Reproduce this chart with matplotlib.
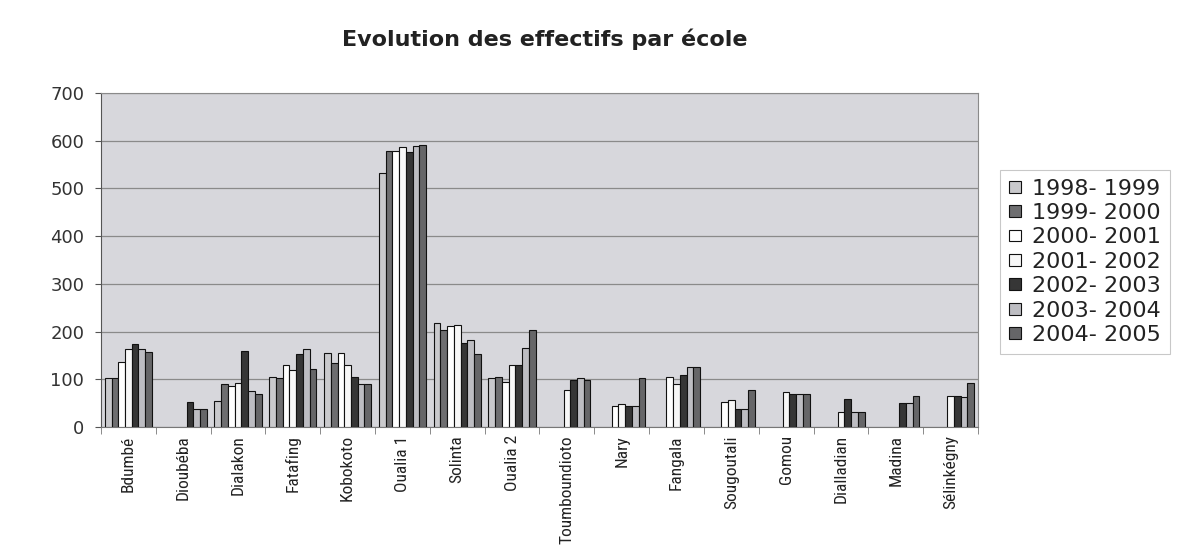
"""Evolution des effectifs par école, 1998-2005."""

import matplotlib

matplotlib.use("Agg")

import matplotlib.pyplot as plt
import numpy as np
from matplotlib import font_manager


SCHOOLS = [
    "Bdumbé", "Dioubéba", "Dialakon", "Fatafing", "Kobokoto", "Oualia 1",
    "Solinta", "Oualia 2", "Toumboundioto", "Nary", "Fangala", "Sougoutali",
    "Gomou", "Dialladian", "Madina", "Sélinkégny",
]
YEARS = [
    "1998- 1999", "1999- 2000", "2000- 2001", "2001- 2002",
    "2002- 2003", "2003- 2004", "2004- 2005",
]

# one list per school, values in YEARS order (0 = no bar)
bdumbe = [103, 103, 136, 164, 173, 164, 157]
dioubeba = [0, 0, 0, 0, 52, 37, 37]
dialakon = [55, 90, 85, 92, 159, 75, 70]
fatafing = [105, 103, 129, 119, 152, 164, 122]
kobokoto = [156, 134, 156, 131, 105, 90, 90]
oualia1 = [533, 579, 579, 586, 577, 589, 591]
solinta = [217, 204, 211, 213, 176, 182, 152]
oualia2 = [103, 105, 94, 129, 131, 166, 204]
toumboundioto = [0, 0, 0, 78, 99, 103, 98]
nary = [0, 0, 45, 48, 45, 45, 103]
fangala = [0, 0, 105, 90, 110, 126, 126]
sougoutali = [0, 0, 52, 57, 38, 38, 78]
gomou = [0, 0, 0, 73, 69, 69, 69]
dialladian = [0, 0, 0, 31, 59, 31, 31]
madina = [0, 0, 0, 0, 50, 50, 66]
selinkegny = [0, 0, 0, 66, 66, 63, 93]

COLORS = ["#c9c9cc", "#6e6e70", "#ffffff", "#f7f7f7", "#363636", "#bdbdc2", "#666668"]


def pick_font(names):
    installed = {f.name for f in font_manager.fontManager.ttflist}
    for n in names:
        if n in installed:
            return n
    return "DejaVu Sans"


def main() -> None:
    plt.rcParams["font.family"] = ["DejaVu Sans"]
    narrow = pick_font(["Liberation Sans Narrow", "Roboto Condensed", "Liberation Sans"])

    data = np.array([
        bdumbe, dioubeba, dialakon, fatafing, kobokoto, oualia1, solinta, oualia2,
        toumboundioto, nary, fangala, sougoutali, gomou, dialladian, madina, selinkegny,
    ], dtype=float)

    fig = plt.figure(figsize=(11.78, 5.49), dpi=100)
    ax = fig.add_axes([0.0857, 0.2222, 0.7445, 0.6084])
    ax.set_facecolor("#d7d7dc")

    n_cat, n_ser = data.shape
    x = np.arange(n_cat)
    width = 0.86 / n_ser
    for j in range(n_ser):
        offs = (j - (n_ser - 1) / 2) * width
        vals = data[:, j]
        mask = vals > 0
        ax.bar(x[mask] + offs, vals[mask], width=width, color=COLORS[j],
               edgecolor="#111111", linewidth=0.8, label=YEARS[j], zorder=3)

    ax.set_xlim(-0.5, n_cat - 0.5)
    ax.set_ylim(0, 700)
    ax.set_yticks(np.arange(0, 701, 100))
    ax.yaxis.grid(True, color="#8a8a8a", linewidth=0.9, zorder=1)
    ax.tick_params(axis="y", labelsize=13, length=4, color="#555555", pad=8,
                   labelcolor="#333333")

    ax.set_xticks(x)
    ax.set_xticklabels(SCHOOLS, rotation=90, fontsize=12.5, family=[narrow, "DejaVu Sans"],
                       color="#222222")
    ax.tick_params(axis="x", which="major", length=0, pad=6)
    ax.set_xticks(np.arange(-0.5, n_cat, 1.0), minor=True)
    ax.tick_params(axis="x", which="minor", length=5, color="#777777")

    for side in ("top", "right"):
        ax.spines[side].set_color("#8a8a8a")
    ax.spines["left"].set_color("#555555")
    ax.spines["bottom"].set_color("#777777")

    fig.text(0.4627, 0.929, "Evolution des effectifs par école", ha="center", va="center",
             fontsize=16, fontweight="bold", color="#222222")

    leg = ax.legend(loc="center left", bbox_to_anchor=(0.849, 0.523),
                    bbox_transform=fig.transFigure, fontsize=16, frameon=True,
                    fancybox=False, handlelength=0.55, handleheight=0.45,
                    handletextpad=0.5, labelspacing=0.2, borderpad=0.4,
                    borderaxespad=0.0)
    leg.get_frame().set_edgecolor("#bbbbbb")
    leg.get_frame().set_linewidth(0.8)
    for t in leg.get_texts():
        t.set_color("#222222")

    fig.savefig("out.png", dpi=100, facecolor="white")
    plt.close(fig)


if __name__ == "__main__":
    main()
